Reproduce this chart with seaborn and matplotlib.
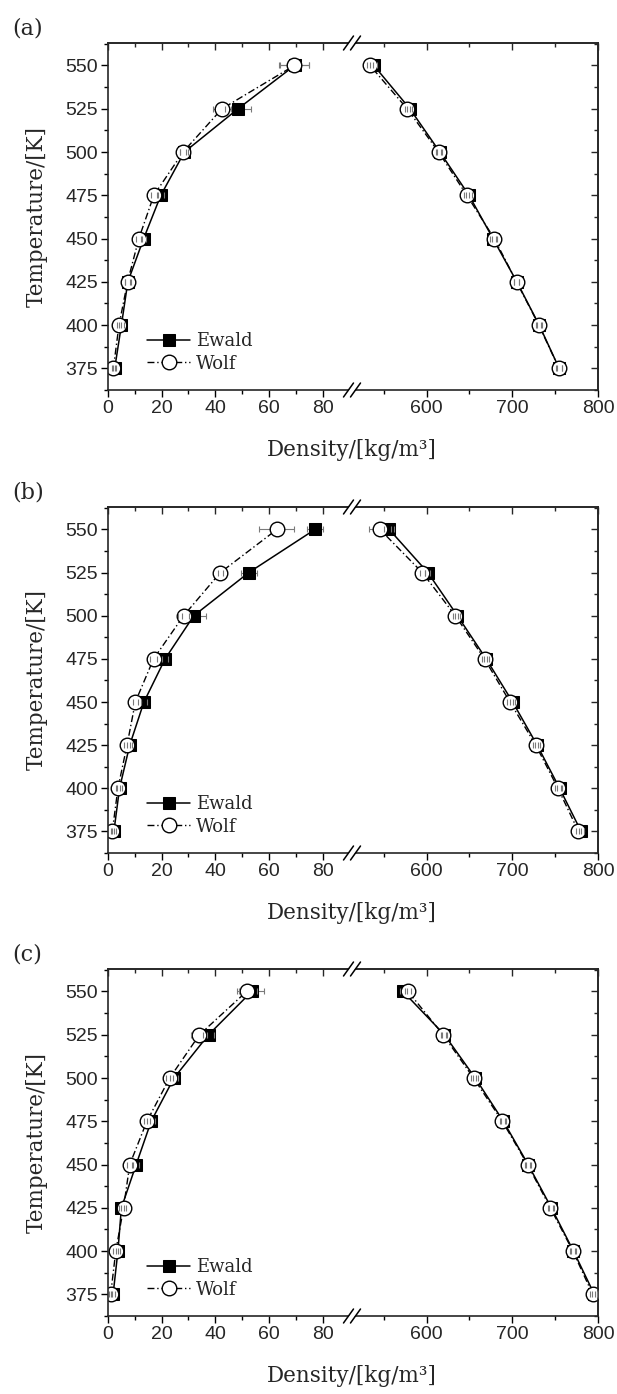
import numpy as np
import pandas as pd
import seaborn as sns
import matplotlib.pyplot as plt
from matplotlib.patches import Polygon
from matplotlib.lines import Line2D

# temperatures (y axis), shared by all panels
temps = [375, 400, 425, 450, 475, 500, 525, 550]

# ---- panel (a)
a_ewald_vap = [2.5, 5.0, 7.4, 13.3, 19.7, 28.5, 48.5, 69.6]
a_wolf_vap = [2.0, 4.1, 7.3, 11.5, 17.1, 28.0, 42.5, 69.5]
a_ewald_liq = [754.7, 731.4, 705.3, 677.5, 649.5, 615.5, 580.5, 538.5]
a_wolf_liq = [754.5, 731.0, 705.0, 679.0, 647.0, 614.0, 577.4, 534.0]
a_ewald_vap_err = [0.6, 0.9, 1.0, 1.0, 1.2, 1.5, 5.0, 5.5]
a_wolf_vap_err = [0.6, 0.8, 1.0, 1.0, 1.0, 1.2, 3.2, 5.6]
a_ewald_liq_err = [3, 3, 3, 3, 3, 3, 3, 4]
a_wolf_liq_err = [3, 3, 3, 3, 3, 3, 3, 4]

# ---- panel (b)
b_ewald_vap = [2.2, 4.3, 8.1, 13.4, 21.3, 32.0, 52.5, 77.2]
b_wolf_vap = [1.6, 3.7, 7.1, 10.2, 17.0, 28.2, 41.9, 63.0]
b_ewald_liq = [780.3, 755.2, 729.0, 700.4, 669.5, 636.0, 601.5, 556.4]
b_wolf_liq = [777.2, 753.3, 727.4, 697.3, 667.6, 633.6, 595.0, 545.6]
b_ewald_vap_err = [0.6, 0.8, 1.0, 1.0, 1.2, 4.5, 3.0, 2.8]
b_wolf_vap_err = [0.6, 0.8, 1.2, 1.0, 1.2, 2.0, 1.0, 6.5]
b_ewald_liq_err = [3, 3, 3, 3, 3, 3, 3, 6]
b_wolf_liq_err = [3, 3, 3, 3, 3, 3, 3, 13]

# ---- panel (c)
c_ewald_vap = [1.9, 3.7, 5.0, 10.5, 16.1, 24.6, 37.5, 53.6]
c_wolf_vap = [1.0, 2.9, 5.8, 8.1, 14.5, 23.0, 34.1, 51.7]
c_ewald_liq = [795.7, 771.4, 745.6, 718.5, 689.6, 656.8, 620.8, 572.6]
c_wolf_liq = [793.8, 770.7, 744.4, 717.8, 688.4, 654.8, 619.3, 578.4]
c_ewald_vap_err = [0.6, 0.8, 1.0, 1.0, 1.5, 1.5, 2.0, 4.7]
c_wolf_vap_err = [0.6, 0.9, 1.0, 1.0, 1.0, 1.2, 3.0, 3.7]
c_ewald_liq_err = [3, 3, 3, 3, 3, 3, 3, 4]
c_wolf_liq_err = [3, 3, 3, 3, 3, 3, 3, 3]

panels = [
    ('(a)', 43, 390, a_ewald_vap, a_wolf_vap, a_ewald_liq, a_wolf_liq,
     a_ewald_vap_err, a_wolf_vap_err, a_ewald_liq_err, a_wolf_liq_err),
    ('(b)', 507, 853, b_ewald_vap, b_wolf_vap, b_ewald_liq, b_wolf_liq,
     b_ewald_vap_err, b_wolf_vap_err, b_ewald_liq_err, b_wolf_liq_err),
    ('(c)', 969, 1316, c_ewald_vap, c_wolf_vap, c_ewald_liq, c_wolf_liq,
     c_ewald_vap_err, c_wolf_vap_err, c_ewald_liq_err, c_wolf_liq_err),
]

sns.set_theme(style='ticks')
plt.rcParams['font.family'] = ['Liberation Sans', 'DejaVu Sans']
plt.rcParams['axes.linewidth'] = 1.2
serif = ['DejaVu Serif']

W, H = 617, 1394
X_LEFT, X_BRK, X_RIGHT = 108, 352, 598
fig = plt.figure(figsize=(W / 100, H / 100), dpi=100)

wolf_ls = (0, (5, 2, 1, 2))


def fx(px):
    return px / W


def fy(py):
    return 1 - py / H


def errbars(ax, x, err):
    _, caps, bars = ax.errorbar(x, temps, xerr=err, fmt='none', ecolor='#7a7a7a',
                                elinewidth=0.8, capsize=2.5, capthick=0.8)
    for b in bars:
        b.set_zorder(1.5)
    for c in caps:
        c.set_zorder(3)


for (letter, top, bot, ev, wv, el, wl, eve, wve, ele, wle) in panels:
    b = fy(bot)
    h = (bot - top) / H
    axl = fig.add_axes([fx(X_LEFT), b, fx(X_BRK - X_LEFT), h])
    axr = fig.add_axes([fx(X_BRK), b, fx(X_RIGHT - X_BRK), h])

    for ax, ew, wo, ewe, woe, lab in [(axl, ev, wv, eve, wve, True),
                                      (axr, el, wl, ele, wle, False)]:
        sns.lineplot(x=ew, y=temps, ax=ax, sort=False, estimator=None, color='black',
                     lw=1.1, marker='s', ms=9, mfc='black', mec='black',
                     label='Ewald' if lab else None, zorder=2)
        sns.lineplot(x=wo, y=temps, ax=ax, sort=False, estimator=None, color='black',
                     lw=1.0, ls=wolf_ls, marker='o', ms=10.5, mfc='white', mec='black',
                     mew=1.0, label='Wolf' if lab else None, zorder=2.2)
        errbars(ax, ew, ewe)
        errbars(ax, wo, woe)
        ax.set_ylim(362.5, 563)
        ax.set_yticks([375, 400, 425, 450, 475, 500, 525, 550])
        ax.set_yticks(np.arange(362.5, 563, 12.5), minor=True)
        ax.set_xlabel('')
        ax.set_ylabel('')
        ax.tick_params(which='both', direction='out', width=1.0, labelsize=14,
                       pad=2, color='black')
        ax.tick_params(which='major', length=5)
        ax.tick_params(which='minor', length=3)

    axl.set_xlim(0, 91)
    axl.set_xticks([0, 20, 40, 60, 80])
    axl.set_xticks([10, 30, 50, 70], minor=True)
    axr.set_xlim(513, 800)
    axr.set_xticks([600, 700, 800])
    axr.set_xticks([550, 650, 750], minor=True)

    axl.spines['right'].set_visible(False)
    axr.spines['left'].set_visible(False)
    axr.tick_params(which='both', left=False, labelleft=False)

    # mirrored ticks pointing inward on top and right
    for ax in (axl, axr):
        sec = ax.secondary_xaxis('top')
        sec.set_xticks(ax.get_xticks())
        sec.set_xticks(ax.get_xticks(minor=True), minor=True)
        sec.tick_params(which='both', direction='in', labeltop=False, width=1.0)
        sec.tick_params(which='major', length=5)
        sec.tick_params(which='minor', length=3)
        sec.spines['top'].set_linewidth(1.2)
    secr = axr.secondary_yaxis('right')
    secr.set_yticks(axr.get_yticks())
    secr.set_yticks(axr.get_yticks(minor=True), minor=True)
    secr.tick_params(which='both', direction='in', labelright=False, width=1.0)
    secr.tick_params(which='major', length=5)
    secr.tick_params(which='minor', length=3)
    secr.spines['right'].set_linewidth(1.2)

    if axr.get_legend():
        axr.get_legend().remove()
    axl.legend(loc='lower left', bbox_to_anchor=(0.16, 0.05), frameon=False,
               borderaxespad=0, borderpad=0, handlelength=2.4, handletextpad=0.3,
               labelspacing=0.25, prop={'family': serif, 'size': 13})

    # axis break marks
    for yb in (top, bot):
        gap = Polygon([(fx(X_BRK - 7), fy(yb + 6)), (fx(X_BRK - 1), fy(yb + 6)),
                       (fx(X_BRK + 7), fy(yb - 6)), (fx(X_BRK + 1), fy(yb - 6))],
                      closed=True, transform=fig.transFigure, facecolor='white',
                      edgecolor='none', zorder=10)
        fig.add_artist(gap)
        for off in (-3.5, 3.5):
            fig.add_artist(Line2D([fx(X_BRK + off - 5), fx(X_BRK + off + 5)],
                                  [fy(yb + 7), fy(yb - 7)], transform=fig.transFigure,
                                  color='black', lw=1.1, zorder=11))

    # labels
    fig.text(fx(12), fy(top - 14), letter, family=serif, fontsize=16, va='center', ha='left')
    fig.text(fx(X_BRK), fy(bot + 60), 'Density/[kg/m³]', family=serif, fontsize=15.5,
             ha='center', va='center')
    fig.text(fx(37), fy((top + bot) / 2), 'Temperature/[K]', family=serif, fontsize=15.5,
             rotation=90, ha='center', va='center')

fig.savefig('out.png', dpi=100)
